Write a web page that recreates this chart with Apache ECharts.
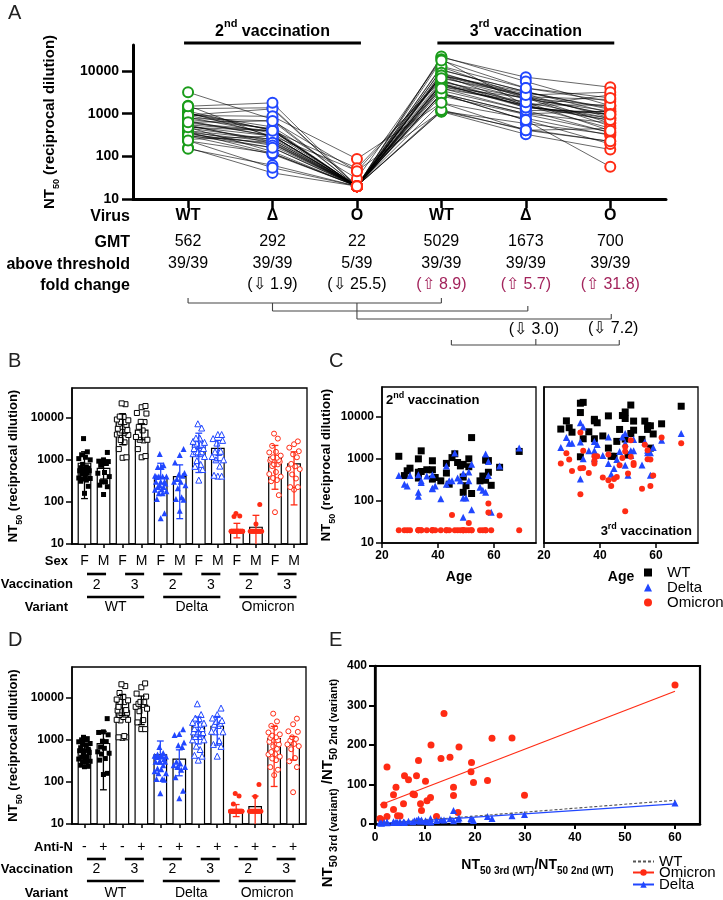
<!DOCTYPE html>
<html><head><meta charset="utf-8">
<script src="https://cdn.jsdelivr.net/npm/echarts@6/dist/echarts.min.js"></script>
<style>html,body{margin:0;padding:0;background:#fff}#c{width:723px;height:900px}</style>
</head><body><div id="c"></div>
<script>
// ---------------- DATA ----------------
// Panel A row labels
const virusLabels = ['WT', 'Δ', 'O', 'WT', 'Δ', 'O'];
const gmtLabels = ['562', '292', '22', '5029', '1673', '700'];
const thresholdLabels = ['39/39', '39/39', '5/39', '39/39', '39/39', '39/39'];
const foldLabels = ['', '(⇩ 1.9)', '(⇩ 25.5)', '(⇧ 8.9)', '(⇧ 5.7)', '(⇧ 31.8)'];
const foldUp = [false, false, false, true, true, true];
const foldLabels2 = ['(⇩ 3.0)', '(⇩ 7.2)'];
const rowHeadersA = ['Virus', 'GMT', 'above threshold', 'fold change'];

const ages = [26,28,29,30,33,33,33,34,34,36,38,38,38,39,41,43,43,44,45,46,47,48,49,49,49,50,51,51,52,52,55,56,57,57,58,58,59,62,69];
const wt2 = [1150,400,520,600,350,480,1000,1550,500,550,330,900,550,360,300,780,460,250,1070,1320,820,680,740,370,160,230,1000,650,150,3200,300,390,930,310,910,480,235,630,1500];
const de2 = [400,250,225,400,160,130,420,275,300,390,195,420,200,225,112,680,250,300,300,1380,350,300,450,118,41,118,490,300,62,740,210,180,1300,160,870,400,54,680,1800];
const om2 = [20,20,20,20,20,20,20,20,20,20,20,20,20,20,20,20,20,20,46,20,20,20,20,20,20,20,30,20,20,20,20,20,20,20,87,53,20,45,20];
const wt3 = [5100,8000,5500,4300,21000,12600,1120,22000,3000,4400,8000,3000,8700,7200,3500,10500,1800,1150,1150,2600,5000,10700,13000,9100,2950,1230,19000,4000,7900,4800,2900,7900,6100,5000,1800,6100,3900,6800,17800];
const de3 = [1860,3200,2350,2350,7200,2500,330,5700,1000,1550,1550,1000,2600,2200,1200,3300,780,430,590,960,1500,3300,4000,2350,700,410,1550,1200,2900,1550,710,2500,1600,1400,410,1400,1860,2750,4000];
const om3 = [780,1350,960,515,4200,600,145,1550,610,460,780,1150,900,1150,360,1260,310,225,330,370,700,1050,1950,1500,57,450,2750,1120,800,710,195,2150,1600,980,225,960,400,3200,2350];
const sex = ['F','M','F','F','F','M','F','F','M','F','F','M','F','F','M','F','F','M','F','F','M','F','M','F','F','M','M','F','M','F','M','F','M','F','M','F','F','F','M'];
const antiN = ['-','-','+','-','-','+','-','+','-','-','+','-','-','+','-','-','+','-','-','+','-','+','-','-','+','-','-','-','+','+','-','-','+','-','+','-','-','+','+'];

// Panel B / D bars (mean) and error bars, 12 groups
const groupVariants = ['WT', 'Delta', 'Omicron'];
const vaccLabels = ['2', '3', '2', '3', '2', '3'];
const sexLabels = ['F','M','F','M','F','M','F','M','F','M','F','M'];
const antiNLabels = ['-','+','-','+','-','+','-','+','-','+','-','+'];
const bMean = [830, 630, 7400, 5100, 380, 400, 2400, 1880, 22, 25, 1140, 800];
const bLow  = [120, 350, 2300, 3000, 380, 40, 500, 950, 14, 10, 200, 85];
const bHigh = [1560, 900, 12500, 7200, 830, 760, 4300, 2900, 31, 48, 2200, 1550];
const dMean = [600, 820, 7800, 6700, 440, 350, 2150, 2100, 21, 26, 1070, 760];
const dLow  = [350, 65, 3800, 2300, 440, 140, 800, 750, 15, 10, 78, 330];
const dHigh = [900, 1600, 12000, 11000, 940, 580, 3500, 3600, 29, 46, 2100, 1200];

// Panel E
const eRatioWT = [1.0,1.3,1.8,2.4,2.4,3.7,3.7,4.2,4.5,5.0,5.7,5.9,6.7,7.6,7.9,8.3,8.7,9.1,9.3,10.1,10.4,11.1,11.2,12.3,13.2,13.8,15.0,15.7,15.7,16.6,16.8,19.2,19.3,19.7,22.5,23.4,27.4,29.9,60];
const eRatioOm = [14,10,48,19,144,37,74,93,21,20,51,122,112,76,74,122,161,51,34,108,59,67,200,19,166,280,169,93,72,29,195,132,156,105,110,217,218,73,352];
const eRatioDe = [3,2,4,5,3,4,6,5,4,6,5,4,7,6,8,9,12,7,10,8,6,14,5,9,11,10,13,34,8,12,15,14,12,9,19,14,21,24,53];
const fitWT = [[1, 1], [60, 60]];
const fitOm = [[1, 48], [60, 336]];
const fitDe = [[0.5, 1], [60, 51]];

// ---------------- STYLE ----------------
const FONT = '"Liberation Sans", Arial, Helvetica, sans-serif';
const GREEN = '#1a9c1a', BLUE = '#2147ff', RED = '#ff2b14', PURPLE = '#a3245c';
const A_YMAX = 41000, B_YMAX = 51000, C_YMAX = 51000, D_YMAX = 54000;
const decades = [10, 100, 1000, 10000];
const plainNum = v => String(Math.round(v));

function bold(size) { return {fontFamily: FONT, fontWeight: 'bold', fontSize: size, color: '#000'}; }
function plain(size) { return {fontFamily: FONT, fontWeight: 'normal', fontSize: size, color: '#000'}; }
function ntRich(size, sub) {
  return {
    b: {fontFamily: FONT, fontWeight: 'bold', fontSize: size, color: '#000', fill: '#000', lineHeight: size + 8, verticalAlign: 'middle'},
    s: {fontFamily: FONT, fontWeight: 'bold', fontSize: sub, color: '#000', fill: '#000', lineHeight: sub + 1, verticalAlign: 'bottom'}
  };
}
function supRich(size, sub, extra) {
  return {
    n: {fontFamily: FONT, fontWeight: 'bold', fontSize: size, color: '#000', fill: '#000', lineHeight: size + extra, verticalAlign: 'bottom'},
    p: {fontFamily: FONT, fontWeight: 'bold', fontSize: sub, color: '#000', fill: '#000', lineHeight: sub + 1, verticalAlign: 'top'}
  };
}
const NT_TITLE = '{b|NT}{s|50}{b| (reciprocal dilution)}';

// ---------------- AXES ----------------
const aRange = {min: -0.652, max: 5.66};
const six = [0, 1, 2, 3, 4, 5];
const twelve = [0,1,2,3,4,5,6,7,8,9,10,11];
const xAxes = [];
const yAxes = [];

function rowAxisA(offset, fmt) {
  return {gridIndex: 0, type: 'value', min: aRange.min, max: aRange.max, position: 'bottom', offset: offset,
    axisLine: {show: false}, axisTick: {show: false}, splitLine: {show: false},
    axisLabel: Object.assign({customValues: six, formatter: fmt, margin: 0}, plain(16))};
}
// 0: A main
xAxes.push({gridIndex: 0, type: 'value', min: aRange.min, max: aRange.max, position: 'bottom',
  axisLine: {show: true, onZero: false, lineStyle: {color: '#000', width: 3}},
  axisTick: {show: true, customValues: six, length: 9, lineStyle: {color: '#000', width: 2.5}},
  axisLabel: Object.assign({customValues: six, margin: 9, formatter: v => virusLabels[Math.round(v)]}, bold(16)),
  splitLine: {show: false}});
// 1-3: A rows
xAxes.push(rowAxisA(35, v => gmtLabels[Math.round(v)]));
xAxes.push(rowAxisA(57, v => thresholdLabels[Math.round(v)]));
xAxes.push(rowAxisA(78, v => { const i = Math.round(v); if (!foldLabels[i]) return ''; return (foldUp[i] ? '{u|' : '{d|') + foldLabels[i] + '}'; }));
xAxes[3].axisLabel.rich = {u: Object.assign(plain(16), {color: PURPLE}), d: plain(16)};

function barXAxis(grid, labels, margin) {
  return {gridIndex: grid, type: 'value', min: -0.656, max: 11.68, position: 'bottom',
    axisLine: {show: true, onZero: false, lineStyle: {color: '#000', width: 1.6}},
    axisTick: {show: true, customValues: twelve, length: 4, lineStyle: {color: '#000', width: 1.5}},
    axisLabel: Object.assign({customValues: twelve, margin: margin, formatter: v => labels[Math.round(v)]}, plain(14)),
    splitLine: {show: false}};
}
function ageAxis(grid) {
  return {gridIndex: grid, type: 'value', min: 20, max: 75, position: 'bottom',
    axisLine: {show: true, onZero: false, lineStyle: {color: '#000', width: 1.6}},
    axisTick: {show: true, customValues: [20, 40, 60], length: 5, lineStyle: {color: '#000', width: 1.5}},
    axisLabel: Object.assign({customValues: [20, 40, 60], margin: 7}, bold(12)),
    splitLine: {show: false},
    name: 'Age', nameLocation: 'middle', nameGap: 27, nameTextStyle: bold(14)};
}
xAxes.push(barXAxis(1, sexLabels, 10));      // 4 B
xAxes.push(ageAxis(2));                      // 5 C1
xAxes.push(ageAxis(3));                      // 6 C2
xAxes.push(barXAxis(4, antiNLabels, 16));    // 7 D
xAxes.push({gridIndex: 5, type: 'value', min: 0, max: 65, position: 'bottom',   // 8 E
  axisLine: {show: true, onZero: false, lineStyle: {color: '#000', width: 2.5}},
  axisTick: {show: true, customValues: [0,10,20,30,40,50,60], length: 5, lineStyle: {color: '#000', width: 2}},
  axisLabel: Object.assign({customValues: [0,10,20,30,40,50,60], margin: 8}, bold(12)),
  splitLine: {show: false},
  name: '{b|NT}{s|50 3rd (WT)}{b|/NT}{s|50 2nd (WT)}', nameLocation: 'middle', nameGap: 30,
  nameTextStyle: {rich: ntRich(14, 10)}});

function logYAxis(grid, max, showLabels, nameGap, titleSize) {
  const ax = {gridIndex: grid, type: 'log', logBase: 10, min: 10, max: max,
    axisLine: {show: true, onZero: false, lineStyle: {color: '#000', width: 1.6}},
    axisTick: {show: showLabels, customValues: decades, length: 6, lineStyle: {color: '#000', width: 1.5}},
    axisLabel: Object.assign({show: showLabels, customValues: decades, margin: 8, formatter: plainNum}, bold(12)),
    splitLine: {show: false}, minorTick: {show: false}};
  if (nameGap) {
    ax.name = NT_TITLE; ax.nameLocation = 'middle'; ax.nameRotate = 90; ax.nameGap = nameGap;
    ax.nameTextStyle = {rich: ntRich(titleSize || 13, 9)};
  }
  return ax;
}
yAxes.push(Object.assign(logYAxis(0, A_YMAX, true, 72, 15), {
  axisLine: {show: true, onZero: false, lineStyle: {color: '#000', width: 3}},
  axisTick: {show: true, customValues: decades, length: 11, lineStyle: {color: '#000', width: 2.5}},
  axisLabel: Object.assign({customValues: decades, margin: 14, formatter: plainNum}, bold(14))}));
yAxes.push(logYAxis(1, B_YMAX, true, 48));   // 1 B
yAxes.push(logYAxis(2, C_YMAX, true, 44));   // 2 C1
yAxes.push(logYAxis(3, C_YMAX, false));      // 3 C2
yAxes.push(logYAxis(4, D_YMAX, true, 48));   // 4 D
yAxes.push({gridIndex: 5, type: 'value', min: 0, max: 400, interval: 100,   // 5 E
  axisLine: {show: true, onZero: false, lineStyle: {color: '#000', width: 2.5}},
  axisTick: {show: true, length: 6, lineStyle: {color: '#000', width: 2}},
  axisLabel: Object.assign({margin: 8}, bold(12)), splitLine: {show: false}});

// ---------------- GRIDS ----------------
const grids = [
  {left: 133, top: 45, width: 533, height: 154},
  {left: 72, top: 388, width: 235, height: 156, show: true, borderColor: '#000', borderWidth: 1.3},
  {left: 382, top: 387, width: 154, height: 156, show: true, borderColor: '#000', borderWidth: 1.3},
  {left: 544, top: 387, width: 154, height: 156, show: true, borderColor: '#000', borderWidth: 1.3},
  {left: 72, top: 667, width: 234, height: 157, show: true, borderColor: '#000', borderWidth: 1.3},
  {left: 375, top: 666, width: 325, height: 158, show: true, borderColor: '#000', borderWidth: 2.2}
].map(g => Object.assign({outerBoundsMode: 'none', containLabel: false, backgroundColor: 'transparent'}, g));

// ---------------- SERIES ----------------
const series = [];
const subjects = wt2.map((_, i) => i);
const aArrays = [wt2, de2, om2, wt3, de3, om3];
const aColors = [GREEN, BLUE, RED, GREEN, BLUE, RED];

// A: subject lines
subjects.forEach(i => {
  series.push({type: 'line', name: 'A-line-' + i, xAxisIndex: 0, yAxisIndex: 0, silent: true, z: 2,
    data: aArrays.map((arr, k) => [k, arr[i]]), symbol: 'none',
    lineStyle: {color: '#000', width: 0.6}});
});
// A: circles
aArrays.forEach((arr, k) => {
  series.push({type: 'scatter', name: 'A-pts-' + k, xAxisIndex: 0, yAxisIndex: 0, z: 3, silent: true,
    data: arr.map(v => [k, v]), symbol: 'circle', symbolSize: 10,
    itemStyle: {color: '#fff', borderColor: aColors[k], borderWidth: 2, opacity: 1}});
});

// A: annotations (vaccination headers, brackets)
const vaccHeaders = ['{n|2}{p|nd}{n| vaccination}', '{n|3}{p|rd}{n| vaccination}'];
function renderAAnnot(params, api) {
  const X = v => api.coord([v, 10])[0];
  const yb = api.coord([0, 10])[1];
  const yt = api.coord([0, A_YMAX])[1];
  const ch = [];
  const L = (x1, y1, x2, y2, w, c) => ch.push({type: 'line', shape: {x1, y1, x2, y2}, style: {stroke: c || '#000', lineWidth: w}});
  const T = (x, y, text, st) => ch.push({type: 'text', style: Object.assign({x, y, text, align: 'center', verticalAlign: 'middle', fill: '#000'}, st)});
  [[0, 2], [3, 5]].forEach((g, i) => {
    const x1 = X(g[0]) - 4, x2 = X(g[1]) + 4;
    L(x1, yt - 2, x2, yt - 2, 3);
    T((x1 + x2) / 2, yt - 16, vaccHeaders[i], {rich: supRich(16, 11, 6)});
  });
  const c = '#444', w = 1.1;
  L(X(0), yb + 104, X(3), yb + 104, w, c); L(X(0), yb + 104, X(0), yb + 99, w, c); L(X(3), yb + 104, X(3), yb + 99, w, c);
  L(X(1), yb + 112, X(4) + 2, yb + 112, w, c); L(X(1), yb + 112, X(1), yb + 104, w, c); L(X(4) + 2, yb + 112, X(4) + 2, yb + 107, w, c);
  L(X(2), yb + 120, X(5) + 1, yb + 120, w, c); L(X(2), yb + 120, X(2), yb + 104, w, c); L(X(5) + 1, yb + 120, X(5) + 1, yb + 115, w, c);
  T(X(4) + 8, yb + 131, foldLabels2[0], {fontFamily: FONT, fontSize: 16});
  T(X(5) + 3, yb + 130, foldLabels2[1], {fontFamily: FONT, fontSize: 16});
  L(X(3) + 10, yb + 146, X(5) + 9, yb + 146, w, c); L(X(3) + 10, yb + 146, X(3) + 10, yb + 141, w, c);
  L(X(5) + 9, yb + 146, X(5) + 9, yb + 141, w, c); L(X(4) + 10, yb + 146, X(4) + 10, yb + 140, w, c);
  return {type: 'group', children: ch};
}
series.push({type: 'custom', name: 'A-annot', xAxisIndex: 0, yAxisIndex: 0, data: [[0, 10]], renderItem: renderAAnnot, silent: true, z: 5, clip: false});

// B / D
const varColors = ['#000', BLUE, RED];
const varSymbols = ['rect', 'triangle', 'circle'];
const varSizes = [5, 6, 5];
const arr2 = [wt2, de2, om2], arr3 = [wt3, de3, om3];
const jitter = [0, 0.2, -0.2, 0.1, -0.1, 0.3, -0.3, 0.05, -0.15, 0.15, -0.05, 0.25, -0.25];

function barPanel(prefix, xIdx, yIdx, split, splitVals, mean, low, high, rows) {
  series.push({type: 'custom', name: prefix + '-bars', xAxisIndex: xIdx, yAxisIndex: yIdx, z: 2, silent: true,
    data: mean.map((m, i) => [i, m]),
    renderItem: (p, api) => {
      const i = api.value(0), m = api.value(1);
      const a = api.coord([i - 0.33, m]), b = api.coord([i + 0.33, 10]);
      return {type: 'rect', shape: {x: a[0], y: a[1], width: b[0] - a[0], height: b[1] - a[1]}, style: {fill: '#fff', stroke: '#000', lineWidth: 1.2}};
    }});
  for (let v = 0; v < 3; v++) {
    for (let vac = 0; vac < 2; vac++) {
      const src = vac === 0 ? arr2[v] : arr3[v];
      const pts = [];
      for (let s = 0; s < 2; s++) {
        const k = v * 4 + vac * 2 + s;
        const vals = src.filter((_, i) => split[i] === splitVals[s]).slice().sort((a, b) => a - b);
        vals.forEach((val, j) => pts.push([k + jitter[j % jitter.length], val]));
      }
      series.push({type: 'scatter', name: prefix + '-pts-' + v + vac, xAxisIndex: xIdx, yAxisIndex: yIdx, z: 3, silent: true,
        data: pts, symbol: varSymbols[v], symbolSize: varSizes[v],
        itemStyle: vac === 0 ? {color: varColors[v], opacity: 1} : {color: '#fff', borderColor: varColors[v], borderWidth: 1, opacity: 1}});
    }
  }
  series.push({type: 'custom', name: prefix + '-err', xAxisIndex: xIdx, yAxisIndex: yIdx, z: 4, silent: true,
    data: mean.map((m, i) => [i, low[i], high[i]]),
    renderItem: (p, api) => {
      const i = api.value(0);
      const lo = api.coord([i, Math.max(api.value(1), 10)]), hi = api.coord([i, api.value(2)]);
      const cl = api.coord([i - 0.18, 10])[0], cr = api.coord([i + 0.18, 10])[0];
      const col = varColors[Math.floor(i / 4)];
      const ch = [
        {type: 'line', shape: {x1: lo[0], y1: lo[1], x2: hi[0], y2: hi[1]}, style: {stroke: col, lineWidth: 1.3}},
        {type: 'line', shape: {x1: cl, y1: hi[1], x2: cr, y2: hi[1]}, style: {stroke: col, lineWidth: 1.3}}];
      if (api.value(1) < mean[i] && api.value(1) > 10) ch.push({type: 'line', shape: {x1: cl, y1: lo[1], x2: cr, y2: lo[1]}, style: {stroke: col, lineWidth: 1.3}});
      return {type: 'group', children: ch};
    }});
  series.push({type: 'custom', name: prefix + '-annot', xAxisIndex: xIdx, yAxisIndex: yIdx, z: 5, silent: true, clip: false,
    data: [[0, 10]],
    renderItem: (p, api) => {
      const X = v => api.coord([v, 10])[0];
      const yb = api.coord([0, 10])[1];
      const ch = [];
      for (let q = 0; q < 6; q++) {
        const x1 = X(2 * q) + 2.5, x2 = X(2 * q + 1) + 2.5;
        ch.push({type: 'line', shape: {x1, y1: yb + rows[0], x2, y2: yb + rows[0]}, style: {stroke: '#000', lineWidth: 2.6}});
        ch.push({type: 'text', style: {x: (x1 + x2) / 2, y: yb + rows[1], text: vaccLabels[q], align: 'center', verticalAlign: 'middle', fill: '#000', fontFamily: FONT, fontSize: 14}});
      }
      for (let g = 0; g < 3; g++) {
        const x1 = X(4 * g) + 2.5, x2 = X(4 * g + 3) + 2.5;
        ch.push({type: 'line', shape: {x1, y1: yb + rows[2], x2, y2: yb + rows[2]}, style: {stroke: '#000', lineWidth: 2.6}});
        ch.push({type: 'text', style: {x: (x1 + x2) / 2, y: yb + rows[3], text: groupVariants[g], align: 'center', verticalAlign: 'middle', fill: '#000', fontFamily: FONT, fontSize: 14}});
      }
      return {type: 'group', children: ch};
    }});
}
barPanel('B', 4, 1, sex, ['F', 'M'], bMean, bLow, bHigh, [30, 41, 53, 63]);
barPanel('D', 7, 4, antiN, ['-', '+'], dMean, dLow, dHigh, [35, 45, 57, 69]);

// C
const cNames = ['WT', 'Delta', 'Omicron'];
const cSymbols = ['rect', 'triangle', 'circle'];
const cSizes = [7, 7, 6];
[[arr2, 5, 2], [arr3, 6, 3]].forEach(([arrs, xi, yi]) => {
  arrs.forEach((arr, v) => {
    series.push({type: 'scatter', name: cNames[v], xAxisIndex: xi, yAxisIndex: yi, z: 3 + v, silent: true,
      data: arr.map((val, i) => [ages[i], val]), symbol: cSymbols[v], symbolSize: cSizes[v],
      itemStyle: {color: varColors[v], opacity: 1}});
  });
});

// E
series.push({type: 'scatter', name: 'E-Om-pts', xAxisIndex: 8, yAxisIndex: 5, z: 3, silent: true,
  data: eRatioWT.map((x, i) => [x, eRatioOm[i]]), symbol: 'circle', symbolSize: 7, itemStyle: {color: RED, opacity: 1}});
series.push({type: 'scatter', name: 'E-De-pts', xAxisIndex: 8, yAxisIndex: 5, z: 3, silent: true,
  data: eRatioWT.map((x, i) => [x, eRatioDe[i]]), symbol: 'triangle', symbolSize: 7, itemStyle: {color: BLUE, opacity: 1}});
series.push({type: 'line', name: 'E-WT', xAxisIndex: 8, yAxisIndex: 5, z: 4, silent: true, data: fitWT, symbol: 'none',
  lineStyle: {color: '#555', width: 1.1, type: [3, 2]}, itemStyle: {color: 'rgba(0,0,0,0)', borderWidth: 0}});
series.push({type: 'line', name: 'E-Omicron', xAxisIndex: 8, yAxisIndex: 5, z: 4, silent: true, data: fitOm, symbol: 'circle', symbolSize: 6, showSymbol: false,
  lineStyle: {color: RED, width: 1.2}, itemStyle: {color: RED}});
series.push({type: 'line', name: 'E-Delta', xAxisIndex: 8, yAxisIndex: 5, z: 4, silent: true, data: fitDe, symbol: 'triangle', symbolSize: 6, showSymbol: false,
  lineStyle: {color: BLUE, width: 1.2}, itemStyle: {color: BLUE}});

// ---------------- GRAPHIC TEXT ----------------
function gText(x, y, text, st) {
  return {type: 'text', x: x, y: y, silent: true, style: Object.assign({text: text, fill: '#000', verticalAlign: 'middle', fontFamily: FONT}, st)};
}
const graphics = [];
[['A', 8, 13], ['B', 8, 361], ['C', 329, 361], ['D', 8, 640], ['E', 329, 640]].forEach(([t, x, y]) =>
  graphics.push(gText(x, y, t, {fontSize: 20, fill: '#222', align: 'left'})));
const aRowY = [217, 243, 265, 286];
rowHeadersA.forEach((t, i) => graphics.push(gText(130, aRowY[i], t, {fontSize: 16, fontWeight: 'bold', align: 'right'})));
[['Sex', 68, 561], ['Vaccination', 73, 584], ['Variant', 68, 607], ['Anti-N', 73, 847], ['Vaccination', 73, 869], ['Variant', 68, 893]].forEach(([t, x, y]) =>
  graphics.push(gText(x, y, t, {fontSize: 13, fontWeight: 'bold', align: 'right'})));
graphics.push(gText(386, 399, '{n|2}{p|nd}{n| vaccination}', {align: 'left', rich: supRich(13, 9, 3)}));
graphics.push(gText(692, 530, '{n|3}{p|rd}{n| vaccination}', {align: 'right', rich: supRich(13, 9, 3)}));
// Panel E y-axis title
graphics.push({type: 'text', x: 328, y: 783, rotation: Math.PI / 2, silent: true,
  style: {text: '{b|NT}{s|50 3rd (variant)}{b| /NT}{s|50 2nd (variant)}', align: 'center', verticalAlign: 'middle', rich: ntRich(15, 11)}});

// ---------------- LEGENDS ----------------
function eLegend(name, top) {
  return {data: [name], orient: 'vertical', left: 632, top: top, padding: 0, itemGap: 0, itemWidth: 21, itemHeight: 8,
    formatter: n => n.replace('E-', ''), textStyle: plain(15), selectedMode: false};
}
const legends = [
  {data: ['WT', 'Delta', 'Omicron'], orient: 'vertical', left: 644, top: 565, padding: 0, itemGap: 0, itemWidth: 8, itemHeight: 8,
    textStyle: Object.assign(plain(15), {lineHeight: 14.5, height: 14.5, padding: [0, 0, 0, 10]}), selectedMode: false},
  eLegend('E-WT', 854),
  eLegend('E-Omicron', 865),
  eLegend('E-Delta', 877)
];

// ---------------- OPTION ----------------
const option = {
  animation: false,
  backgroundColor: '#fff',
  textStyle: {fontFamily: FONT},
  grid: grids,
  xAxis: xAxes,
  yAxis: yAxes,
  series: series,
  legend: legends,
  graphic: graphics
};
const chart = echarts.init(document.getElementById('c'), null, {renderer: 'canvas', width: 723, height: 900});
chart.setOption(option);
</script></body></html>
